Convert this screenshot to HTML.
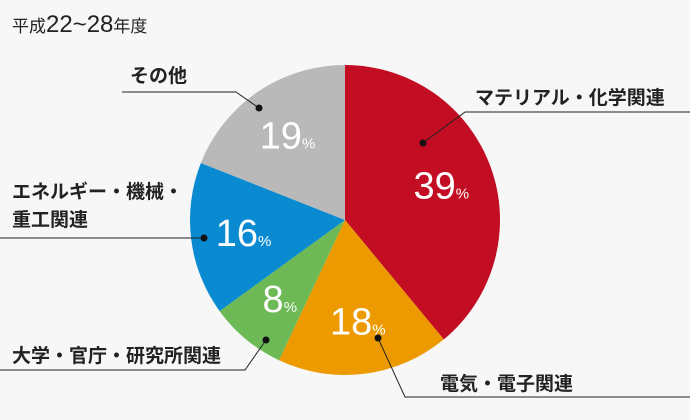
<!DOCTYPE html>
<html><head><meta charset="utf-8">
<style>
body{margin:0;background:#f7f7f7;}
svg{display:block;font-family:"Liberation Sans","Noto Sans CJK JP",sans-serif;}
</style></head>
<body>
<svg width="690" height="420" viewBox="0 0 690 420">
<rect width="690" height="420" fill="#f7f7f7"/>
<text x="12" y="32" font-size="17" fill="#222">平成<tspan font-size="24">22~28</tspan>年度</text>
<g id="slices"></g>
<g id="leaders" stroke="#222" stroke-width="1" fill="none">
<polyline points="122,92 236,92 259,108"/>
<polyline points="423,143 465,112 690,112"/>
<polyline points="0,238 204,238"/>
<polyline points="266,340 245,370 0,370"/>
<polyline points="378,338 405,397 690,397"/>
</g>
<g fill="#111">
<circle cx="259" cy="108" r="3.5"/>
<circle cx="423" cy="143" r="3.5"/>
<circle cx="204" cy="238" r="3.5"/>
<circle cx="266" cy="340" r="3.5"/>
<circle cx="378" cy="338" r="3.5"/>
</g>
<g font-size="19" fill="#222" font-weight="bold">
<text x="130" y="82">その他</text>
<text x="475" y="104">マテリアル・化学関連</text>
<text x="12" y="198">エネルギー・機械・</text>
<text x="12" y="226">重工関連</text>
<text x="12" y="362">大学・官庁・研究所関連</text>
<text x="440" y="390">電気・電子関連</text>
</g>
<g id="pcts"></g>
</svg>
<script>
const categories=["material","electric","university","energy","other"];
const values=[39,18,8,16,19];
const colors=["#c30d23","#ec9a00","#6cb955","#0a8bd1","#b8b9b8"];
const cx=345,cy=220,R=155;
const total=values.reduce((a,b)=>a+b,0);
function pt(frac,r){const a=frac*2*Math.PI;return [cx+r*Math.sin(a),cy-r*Math.cos(a)];}
const NS="http://www.w3.org/2000/svg";
const sg=document.getElementById("slices"),pg=document.getElementById("pcts");
let acc=0;
values.forEach((v,i)=>{
  const s=acc/total,e=(acc+v)/total;acc+=v;
  const [x1,y1]=pt(s,R),[x2,y2]=pt(e,R);
  const p=document.createElementNS(NS,"path");
  p.setAttribute("d",`M${cx},${cy}L${x1},${y1}A${R},${R} 0 ${e-s>0.5?1:0} 1 ${x2},${y2}Z`);
  p.setAttribute("fill",colors[i]);
  
  
  sg.appendChild(p);
  const [tx,ty]=pt((s+e)/2,R*0.66);
  const t=document.createElementNS(NS,"text");
  t.setAttribute("x",tx);t.setAttribute("y",ty+13);
  t.setAttribute("text-anchor","middle");t.setAttribute("fill","#fff");
  t.setAttribute("font-size","38");
  t.innerHTML=v+'<tspan font-size="15">%</tspan>';
  
  
  pg.appendChild(t);
});
</script>
</body></html>
